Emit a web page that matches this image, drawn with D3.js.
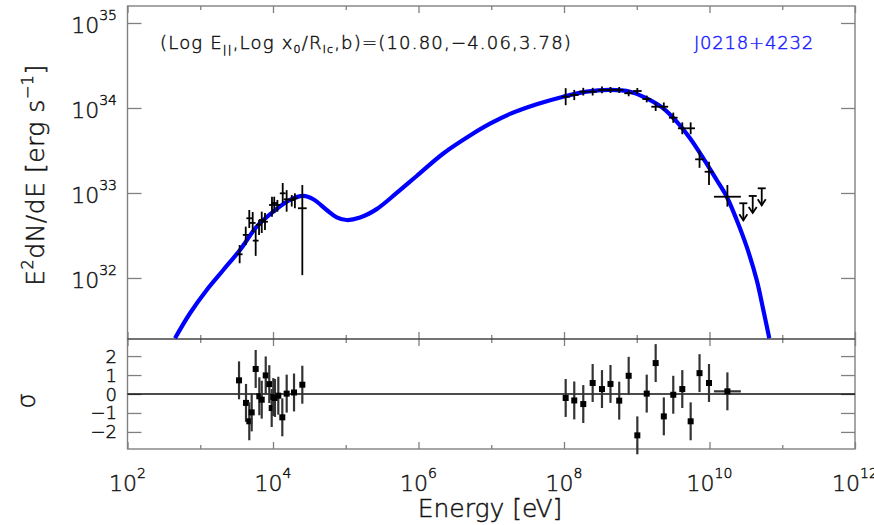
<!DOCTYPE html>
<html><head><meta charset="utf-8">
<script src="https://cdn.jsdelivr.net/npm/d3@7"></script>
<style>
body{margin:0;background:#fff;}
text{font-family:"DejaVu Sans",sans-serif;font-weight:200;stroke-width:0.45px;}
</style>
</head><body>
<svg id="c" width="874" height="525"></svg>
<script>
// ---------------- data ----------------
// X-ray points (eV, erg/s)
const xrayE    = [3.48e3,4.22e3,4.72e3,5.26e3,5.78e3,6.43e3,7.0e3,7.76e3,9.68e3,1.04e4,1.15e4,1.36e4,1.54e4,1.81e4,2.0e4,2.53e4];
const xrayEHalfDex = [0.04,0.04,0.04,0.04,0.04,0.04,0.04,0.04,0.04,0.04,0.04,0.04,0.04,0.04,0.04,0.06];
const xrayF    = [1.90e32,3.21e32,5.04e32,4.44e32,2.75e32,4.21e32,4.81e32,4.59e32,7.23e32,7.62e32,7.23e32,9.91e32,8.43e32,8.28e32,8.67e32,6.61e32];
const xrayFlo  = [1.49e32,2.44e32,3.87e32,3.48e32,1.82e32,3.21e32,3.38e32,3.67e32,5.26e32,5.82e32,6.03e32,7.62e32,6.03e32,6.92e32,6.61e32,1.08e32];
const xrayFhi  = [2.44e32,4.02e32,6.31e32,5.97e32,3.67e32,4.81e32,6.03e32,5.82e32,9.04e32,9.04e32,8.28e32,1.31e33,1.08e33,9.46e32,9.91e32,1.24e33];

// Gamma-ray points (log10 E [eV], log10 flux, log error)
const gamLogE  = [8.023,8.141,8.265,8.394,8.522,8.639,8.759,8.889,9.008,9.137,9.26,9.372,9.502,9.626,9.741,9.863,9.993,10.246];
const gamHalfDex = [0.06,0.06,0.06,0.06,0.06,0.06,0.06,0.06,0.06,0.06,0.06,0.06,0.06,0.06,0.06,0.06,0.06,0.185];
const gamLogF  = [34.133,34.153,34.192,34.192,34.212,34.212,34.212,34.173,34.2,34.106,34.015,34.015,33.886,33.761,33.761,33.396,33.25,32.956];
const gamErrLo = [0.10,0.06,0.045,0.045,0.04,0.035,0.035,0.035,0.035,0.04,0.05,0.05,0.06,0.07,0.07,0.10,0.156,0.117];
const gamErrHi = [0.10,0.06,0.045,0.045,0.04,0.035,0.035,0.035,0.035,0.04,0.05,0.05,0.06,0.07,0.07,0.10,0.118,0.138];

// Upper limits
const ulLogE = [10.465,10.594,10.718];
const ulLogF = [32.879,32.965,33.055];

// Model curve (log10 E, log10 E^2 dN/dE)
const modelLogE = [2.653,2.859,3.089,3.317,3.546,3.776,4.004,4.234,4.416,4.554,4.738,4.876,5.013,5.196,5.425,5.7,5.975,6.341,6.708,6.983,7.258,7.625,7.99,8.312,8.632,8.907,9.137,9.365,9.549,9.732,9.915,10.099,10.237,10.374,10.511,10.649,10.74,10.822];
const modelLogF = [31.291,31.585,31.859,32.094,32.329,32.604,32.78,32.918,32.965,32.926,32.8,32.714,32.682,32.711,32.81,33.0,33.2,33.465,33.676,33.815,33.93,34.044,34.133,34.192,34.212,34.192,34.114,33.996,33.839,33.644,33.408,33.153,32.956,32.682,32.368,31.976,31.624,31.291];

// Residuals
const resXLogE = [3.533,3.629,3.674,3.707,3.762,3.812,3.845,3.9,3.949,3.982,4.004,4.027,4.073,4.128,4.188,4.289,4.403];
const resXSig  = [0.72,-0.47,-1.44,-0.97,1.32,-0.12,-0.3,0.98,0.52,-0.74,-0.16,-0.21,-0.09,-1.23,0.02,0.08,0.49];
const resGSig  = [-0.21,-0.34,-0.53,0.58,0.26,0.53,-0.35,0.96,-2.18,0.02,1.63,-1.18,-0.04,0.26,-1.44,1.1,0.58,0.14];

const xTickExp = [2,4,6,8,10,12];
const xMinorExp = [3,5,7,9,11];
const yTickExp = [32,33,34,35];
const resTicks = [-2,-1,0,1,2];

// ---------------- layout ----------------
const L = 127.5, R = 855, T = 6, M = 339, B = 449;
const svg = d3.select("#c");
const P = v => Math.pow(10, v);

const x = d3.scaleLog().domain([1e2, 1e12]).range([L, R]);
const y = d3.scaleLog().domain([P(31.282), P(35.2)]).range([M, T]);
const r = d3.scaleLinear().domain([-2.9, 2.9]).range([B, M]);

const frame = "#808080", ink = "#111";

svg.append("defs").append("clipPath").attr("id","clipTop")
  .append("rect").attr("x",L).attr("y",T).attr("width",R-L).attr("height",M-T);

function xTicks(ypos, dir){
  const gMaj = svg.append("g").attr("transform",`translate(0,${ypos})`);
  const ax1 = (dir>0?d3.axisBottom(x):d3.axisTop(x)).tickValues(xTickExp.map(P)).tickSize(7).tickFormat("");
  gMaj.call(ax1);
  const gMin = svg.append("g").attr("transform",`translate(0,${ypos})`);
  const ax2 = (dir>0?d3.axisBottom(x):d3.axisTop(x)).tickValues(xMinorExp.map(P)).tickSize(4).tickFormat("");
  gMin.call(ax2);
  [gMaj,gMin].forEach(g=>{g.select(".domain").remove(); g.selectAll("line").attr("stroke",frame).attr("stroke-width",1.3);});
}
xTicks(T, 1); xTicks(M, -1); xTicks(M, 1); xTicks(B, -1);

[[L, d3.axisRight],[R, d3.axisLeft]].forEach(([xp, f])=>{
  const g = svg.append("g").attr("transform",`translate(${xp},0)`)
    .call(f(y).tickValues(yTickExp.map(P)).tickSize(14).tickFormat(""));
  g.select(".domain").remove(); g.selectAll("line").attr("stroke",frame).attr("stroke-width",1.3);
  const g2 = svg.append("g").attr("transform",`translate(${xp},0)`)
    .call(f(r).tickValues(resTicks).tickSize(14).tickFormat(""));
  g2.select(".domain").remove(); g2.selectAll("line").attr("stroke",frame).attr("stroke-width",1.3);
});

svg.append("rect").attr("x",L).attr("y",T).attr("width",R-L).attr("height",B-T)
  .attr("fill","none").attr("stroke",frame).attr("stroke-width",1.4);
svg.append("line").attr("x1",L).attr("x2",R).attr("y1",M).attr("y2",M).attr("stroke","#444").attr("stroke-width",1.4);
svg.append("line").attr("x1",L).attr("x2",R).attr("y1",r(0)).attr("y2",r(0)).attr("stroke","#111").attr("stroke-width",1.5);

const txt = (sel) => sel.attr("fill",ink).attr("stroke",ink);

yTickExp.forEach(e=>{
  const t = txt(svg.append("text").attr("x",117).attr("y",y(P(e))+10.5).attr("text-anchor","end")
    .attr("font-size",22));
  t.append("tspan").text("10");
  t.append("tspan").attr("font-size",14).attr("dy",-13).text(e);
});
resTicks.forEach(v=>{
  txt(svg.append("text").attr("x",117).attr("y",r(v)+6.5).attr("text-anchor","end")
    .attr("font-size",18)).text(v<0?"\u2212"+(-v):String(v));
});
xTickExp.forEach(e=>{
  const t = txt(svg.append("text").attr("x",x(P(e))).attr("y",491).attr("text-anchor","middle")
    .attr("font-size",22));
  t.append("tspan").text("10");
  t.append("tspan").attr("font-size",14).attr("dy",-13).text(e);
});

txt(svg.append("text").attr("x",490).attr("y",517).attr("text-anchor","middle")
  .attr("font-size",25)).text("Energy [eV]");
const yl = txt(svg.append("text").attr("transform","translate(44,175) rotate(-90)").attr("text-anchor","middle")
  .attr("font-size",25).attr("letter-spacing",0.5));
yl.append("tspan").text("E");
yl.append("tspan").attr("font-size",16).attr("dy",-11).text("2");
yl.append("tspan").attr("dy",11).text("dN/dE [erg s");
yl.append("tspan").attr("font-size",16).attr("dy",-11).text("\u22121");
yl.append("tspan").attr("dy",11).text("]");
txt(svg.append("text").attr("transform","translate(35,401) rotate(-90)").attr("text-anchor","middle")
  .attr("font-size",24)).text("\u03c3");

const an = txt(svg.append("text").attr("x",160).attr("y",49).attr("font-size",18).attr("letter-spacing",1.2));
an.append("tspan").text("(Log E");
an.append("tspan").attr("font-size",11).attr("dy",4).text("||");
an.append("tspan").attr("dy",-4).text(",Log x");
an.append("tspan").attr("font-size",11).attr("dy",4).text("0");
an.append("tspan").attr("dy",-4).text("/R");
an.append("tspan").attr("font-size",11).attr("dy",4).text("lc");
an.append("tspan").attr("dy",-4).text(",b)=(10.80,\u22124.06,3.78)");
svg.append("text").attr("x",694).attr("y",49).attr("fill","#1a1aff").attr("stroke","#1a1aff")
  .attr("font-size",18).attr("letter-spacing",0.8).text("J0218+4232");

const topG = svg.append("g").attr("clip-path","url(#clipTop)");
const line = d3.line().x(d=>x(P(d[0]))).y(d=>y(P(d[1]))).curve(d3.curveCatmullRom.alpha(0.5));
topG.append("path").datum(modelLogE.map((e,i)=>[e,modelLogF[i]]))
  .attr("d",line).attr("fill","none").attr("stroke","#0000ff").attr("stroke-width",4.2);

const dg = svg.append("g").attr("stroke","#000").attr("stroke-width",1.8);
xrayE.forEach((e,i)=>{
  const le = Math.log10(e);
  dg.append("line").attr("x1",x(e)).attr("x2",x(e)).attr("y1",y(xrayFlo[i])).attr("y2",y(xrayFhi[i]));
  dg.append("line").attr("x1",x(P(le-xrayEHalfDex[i]))).attr("x2",x(P(le+xrayEHalfDex[i])))
    .attr("y1",y(xrayF[i])).attr("y2",y(xrayF[i]));
});
gamLogE.forEach((le,i)=>{
  const xe = x(P(le));
  dg.append("line").attr("x1",xe).attr("x2",xe).attr("y1",y(P(gamLogF[i]-gamErrLo[i]))).attr("y2",y(P(gamLogF[i]+gamErrHi[i])));
  dg.append("line").attr("x1",x(P(le-gamHalfDex[i]))).attr("x2",x(P(le+gamHalfDex[i])))
    .attr("y1",y(P(gamLogF[i]))).attr("y2",y(P(gamLogF[i])));
});
ulLogE.forEach((le,i)=>{
  const xe = x(P(le)), ye = y(P(ulLogF[i]));
  dg.append("line").attr("x1",xe-4).attr("x2",xe+4).attr("y1",ye).attr("y2",ye);
  dg.append("line").attr("x1",xe).attr("x2",xe).attr("y1",ye).attr("y2",ye+17);
  dg.append("path").attr("d",`M${xe-4},${ye+11}L${xe},${ye+17}L${xe+4},${ye+11}`).attr("fill","none");
});

const rg = svg.append("g");
function resPoint(le, s, half){
  const xe = x(P(le));
  rg.append("line").attr("x1",xe).attr("x2",xe).attr("y1",r(s-1)).attr("y2",r(s+1))
    .attr("stroke","#333").attr("stroke-width",2.2);
  if(half>0.1) rg.append("line").attr("x1",x(P(le-half))).attr("x2",x(P(le+half))).attr("y1",r(s)).attr("y2",r(s))
    .attr("stroke","#333").attr("stroke-width",2.2);
  rg.append("rect").attr("x",xe-3).attr("y",r(s)-3).attr("width",6).attr("height",6).attr("fill","#000");
}
resXLogE.forEach((le,i)=>resPoint(le,resXSig[i],0));
gamLogE.forEach((le,i)=>resPoint(le,resGSig[i],gamHalfDex[i]));
</script>
</body></html>
